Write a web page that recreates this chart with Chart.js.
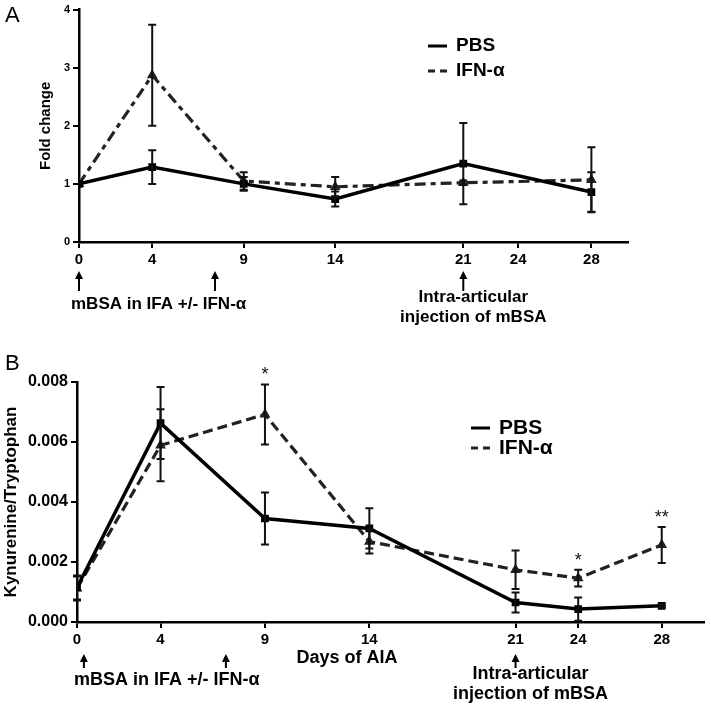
<!DOCTYPE html>
<html>
<head>
<meta charset="utf-8">
<script src="https://cdn.jsdelivr.net/npm/chart.js@4/dist/chart.umd.min.js"></script>
<style>
  html, body { margin: 0; padding: 0; background: #fff; }
  #wrap { position: relative; width: 711px; height: 706px; }
  canvas { position: absolute; left: 0; }
  #chartA { top: 0; }
  #chartB { top: 340px; }
</style>
</head>
<body>
<div id="wrap">
  <canvas id="chartA" width="711" height="340"></canvas>
  <canvas id="chartB" width="711" height="366"></canvas>
</div>
<script>
// panel A - fold change
const daysA = [0, 4, 9, 14, 21, 28];
const pbsA = [1.0, 1.29, 1.0, 0.74, 1.35, 0.86];
const pbsErrA = [0, 0.29, 0.12, 0.13, 0.7, 0.34];
const ifnA = [1.0, 2.87, 1.05, 0.95, 1.02, 1.07];
const ifnErrA = [0, 0.87, 0.15, 0.17, 0.04, 0.56];

// panel B - kynurenine/tryptophan
const daysB = [0, 4, 9, 14, 21, 24, 28];
const pbsB = [0.00115, 0.00663, 0.00345, 0.00312, 0.00065, 0.00043, 0.00054];
const pbsErrB = [0.0004, 0.0012, 0.00087, 0.00067, 0.00033, 0.00039, 0.00005];
const ifnB = [0.00112, 0.00589, 0.00692, 0.00268, 0.00174, 0.00146, 0.00257];
const ifnErrB = [0.0004, 0.0012, 0.001, 0.0004, 0.00064, 0.00028, 0.0006];
const sigB = ['', '', '*', '', '', '*', '**'];

const xTicks = [0, 4, 9, 14, 21, 24, 28];
const seriesNames = ['PBS', 'IFN-\u03b1'];

const FONT = '"Liberation Sans", Arial, sans-serif';

function toPoints(xs, ys) {
    return xs.map((x, i) => ({ x: x, y: ys[i] }));
}

function drawArrow(ctx, x, yTop, yBot) {
    ctx.save();
    ctx.strokeStyle = '#000';
    ctx.fillStyle = '#000';
    ctx.lineWidth = 2;
    ctx.beginPath();
    ctx.moveTo(x, yBot);
    ctx.lineTo(x, yTop + 5);
    ctx.stroke();
    ctx.beginPath();
    ctx.moveTo(x, yTop);
    ctx.lineTo(x - 4, yTop + 8);
    ctx.lineTo(x + 4, yTop + 8);
    ctx.closePath();
    ctx.fill();
    ctx.restore();
}

// error bars, legend and notes drawn on top of the library's own scales
const extrasPlugin = {
    id: 'extras',
    afterDatasetsDraw(chart) {
        const ctx = chart.ctx;
        const xs = chart.scales.x, ys = chart.scales.y;
        chart.data.datasets.forEach(ds => {
            ctx.save();
            ctx.strokeStyle = '#111';
            ctx.lineWidth = 2;
            ds.data.forEach((p, i) => {
                const e = ds.errors[i];
                if (!e) return;
                const px = xs.getPixelForValue(p.x);
                const top = ys.getPixelForValue(p.y + e);
                const bot = ys.getPixelForValue(p.y - e);
                ctx.beginPath();
                ctx.moveTo(px, top); ctx.lineTo(px, bot);
                ctx.moveTo(px - 4, top); ctx.lineTo(px + 4, top);
                ctx.moveTo(px - 4, bot); ctx.lineTo(px + 4, bot);
                ctx.stroke();
            });
            ctx.restore();
            if (ds.stars) {
                ctx.save();
                ctx.fillStyle = '#111';
                ctx.font = '18px ' + FONT;
                ctx.textAlign = 'center';
                ds.data.forEach((p, i) => {
                    if (!ds.stars[i]) return;
                    const px = xs.getPixelForValue(p.x);
                    const top = ys.getPixelForValue(p.y + ds.errors[i]);
                    ctx.fillText(ds.stars[i], px, top - 4);
                });
                ctx.restore();
            }
        });

        const o = chart.options.plugins.extras;
        ctx.save();
        // panel letter
        ctx.fillStyle = '#000';
        ctx.font = '22px ' + FONT;
        ctx.textBaseline = 'middle';
        ctx.fillText(o.letter, 5, o.letterY);

        // legend
        ctx.font = 'bold ' + o.legendFont + 'px ' + FONT;
        chart.data.datasets.forEach((ds, i) => {
            const y = o.legendY + i * o.legendGap;
            ctx.strokeStyle = ds.borderColor;
            ctx.lineWidth = 3;
            ctx.setLineDash(ds.borderDash ? [7, 5] : []);
            ctx.beginPath();
            ctx.moveTo(o.legendX, y);
            ctx.lineTo(o.legendX + 19, y);
            ctx.stroke();
            ctx.setLineDash([]);
            ctx.fillStyle = '#000';
            ctx.textAlign = 'left';
            ctx.fillText(ds.label, o.legendX + 28, y);
        });

        // arrows and notes under the x axis
        o.arrows.forEach(a => drawArrow(ctx, xs.getPixelForValue(a), o.arrowTop, o.arrowBot));
        ctx.font = 'bold ' + o.noteFont + 'px ' + FONT;
        ctx.textAlign = 'left';
        ctx.fillText('mBSA in IFA +/- IFN-\u03b1', o.note1X, o.note1Y);
        ctx.textAlign = 'center';
        const cx = xs.getPixelForValue(21) + o.note2Dx;
        ctx.fillText('Intra-articular', cx, o.note2Y);
        ctx.fillText('injection of mBSA', cx, o.note2Y + o.noteGap);
        if (o.xTitle) {
            ctx.fillText(o.xTitle, o.xTitleX, o.xTitleY);
        }
        ctx.restore();
    }
};

function makeChart(id, days, pbs, pbsErr, ifn, ifnErr, stars, opt) {
    return new Chart(document.getElementById(id), {
        type: 'line',
        data: {
            datasets: [{
                label: seriesNames[0],
                data: toPoints(days, pbs),
                errors: pbsErr,
                borderColor: '#000',
                backgroundColor: '#000',
                borderWidth: 3.5,
                pointStyle: 'rect',
                pointRadius: 3,
                tension: 0
            }, {
                label: seriesNames[1],
                data: toPoints(days, ifn),
                errors: ifnErr,
                stars: stars,
                borderColor: '#222',
                backgroundColor: '#222',
                borderWidth: 3.2,
                borderDash: opt.dash,
                pointStyle: 'triangle',
                pointRadius: 3,
                tension: 0
            }]
        },
        options: {
            responsive: false,
            animation: false,
            layout: { padding: opt.padding },
            plugins: {
                legend: { display: false },
                tooltip: { enabled: false },
                extras: opt.extras
            },
            scales: {
                x: {
                    type: 'linear',
                    min: 0,
                    max: 30,
                    afterBuildTicks: s => { s.ticks = xTicks.map(v => ({ value: v })); },
                    afterFit: s => { s.height = opt.xHeight; },
                    grid: { drawOnChartArea: false, drawTicks: true, tickLength: 6, color: '#000', lineWidth: 2 },
                    border: { color: '#000', width: 2.5 },
                    ticks: { color: '#000', padding: 3, font: { family: FONT, size: opt.xFont, weight: 'bold' } }
                },
                y: {
                    min: 0,
                    max: opt.yMax,
                    afterFit: s => { s.width = opt.yWidth; },
                    grid: { drawOnChartArea: false, drawTicks: true, tickLength: 6, color: '#000', lineWidth: 2 },
                    border: { color: '#000', width: 2.5 },
                    ticks: {
                        stepSize: opt.yStep,
                        color: '#000',
                        padding: 3,
                        font: { family: FONT, size: opt.yFont, weight: 'bold' },
                        callback: opt.yFormat
                    },
                    title: {
                        display: true,
                        text: opt.yTitle,
                        color: '#000',
                        padding: 0,
                        font: { family: FONT, size: opt.yTitleFont, weight: 'bold' }
                    }
                }
            }
        },
        plugins: [extrasPlugin]
    });
}

makeChart('chartA', daysA, pbsA, pbsErrA, ifnA, ifnErrA, null, {
    dash: [11, 5, 5, 5],
    padding: { left: 37, top: 8, right: 83, bottom: 0 },
    xHeight: 98,
    yWidth: 42,
    yMax: 4,
    yStep: 1,
    xFont: 15,
    yFont: 11,
    yFormat: v => v,
    yTitle: 'Fold change',
    yTitleFont: 15,
    extras: {
        letter: 'A', letterY: 16,
        legendX: 428, legendY: 46, legendGap: 25, legendFont: 19,
        arrows: [0, 7.43, 21], arrowTop: 271, arrowBot: 291,
        noteFont: 17, note1X: 71, note1Y: 304,
        note2Dx: 10, note2Y: 297, noteGap: 20
    }
});

makeChart('chartB', daysB, pbsB, pbsErrB, ifnB, ifnErrB, sigB, {
    dash: [10, 5],
    padding: { left: 1, top: 42, right: 4, bottom: 0 },
    xHeight: 84,
    yWidth: 76,
    yMax: 0.008,
    yStep: 0.002,
    xFont: 15,
    yFont: 16,
    yFormat: v => v.toFixed(3),
    yTitle: 'Kynurenine/Tryptophan',
    yTitleFont: 17,
    extras: {
        letter: 'B', letterY: 24,
        legendX: 471, legendY: 88, legendGap: 20, legendFont: 21,
        arrows: [0.33, 7.13, 21], arrowTop: 314, arrowBot: 328,
        noteFont: 18, note1X: 74, note1Y: 340,
        note2Dx: 15, note2Y: 334, noteGap: 20,
        xTitle: 'Days of AIA', xTitleX: 347, xTitleY: 318
    }
});
</script>
</body>
</html>
